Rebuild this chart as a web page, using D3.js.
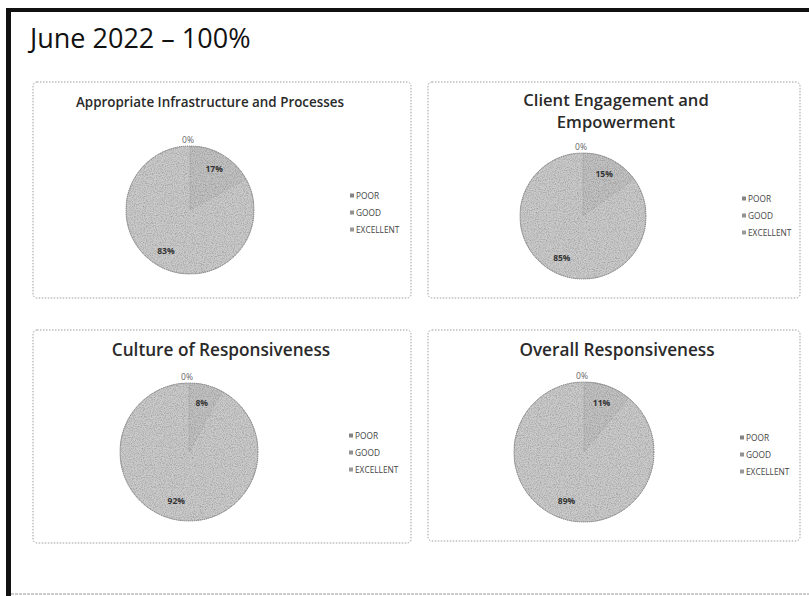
<!DOCTYPE html>
<html><head><meta charset="utf-8">
<script src="https://cdn.jsdelivr.net/npm/d3@7"></script>
<style>
html,body{margin:0;padding:0;background:#fff;}
svg{display:block;}
</style></head>
<body>
<script>
// ---- data ----
const pageTitle = "June 2022 \u2013 100%";
const categories = ["POOR", "GOOD", "EXCELLENT"];
const chartTitles = [
  ["Appropriate Infrastructure and Processes"],
  ["Client Engagement and", "Empowerment"],
  ["Culture of Responsiveness"],
  ["Overall Responsiveness"]
];
const infrastructureValues = [0, 17, 83];
const engagementValues = [0, 15, 85];
const cultureValues = [0, 8, 92];
const overallValues = [0, 11, 89];
const seriesValues = [infrastructureValues, engagementValues, cultureValues, overallValues];

// ---- layout (styles / positions, not data) ----
const W = 809, H = 596;
const panels = [
  {x: 33, y: 82, w: 378, h: 216, cx: 190, cy: 210, r: 64, titleY: [107], titleSize: 13.4, titleX: 210, legX: 350, legY: 196},
  {x: 428, y: 82, w: 372, h: 216, cx: 583, cy: 216, r: 63, titleY: [106, 128], titleSize: 16.6, titleX: 616, legX: 742, legY: 199},
  {x: 33, y: 330, w: 378, h: 213, cx: 189, cy: 452, r: 69, titleY: [356], titleSize: 17.2, titleX: 221, legX: 349, legY: 436},
  {x: 428, y: 330, w: 372, h: 211, cx: 584, cy: 452, r: 70, titleY: [356], titleSize: 17.2, titleX: 617, legX: 740, legY: 438}
];
const sliceColors = ["#b0b0b0", "#c2c2c2", "#cbcbcb"];

const svg = d3.select("body").append("svg").attr("width", W).attr("height", H);

// noise texture filter to mimic photocopy
const defs = svg.append("defs");
const f = defs.append("filter").attr("id", "grain").attr("x", 0).attr("y", 0).attr("width", 1).attr("height", 1);
f.append("feTurbulence").attr("type", "fractalNoise").attr("baseFrequency", 0.9).attr("numOctaves", 2).attr("seed", 3).attr("result", "noise");
f.append("feColorMatrix").attr("in", "noise").attr("type", "matrix")
  .attr("values", "0 0 0 0 0  0 0 0 0 0  0 0 0 0 0  0 0 0 -0.9 0.55").attr("result", "dots");
f.append("feComposite").attr("in", "dots").attr("in2", "SourceGraphic").attr("operator", "in").attr("result", "dotsIn");
f.append("feMerge").selectAll("feMergeNode").data(["SourceGraphic", "dotsIn"]).enter()
  .append("feMergeNode").attr("in", d => d);

svg.append("rect").attr("width", W).attr("height", H).attr("fill", "#fff");

// frame
svg.append("rect").attr("x", 6).attr("y", 8).attr("width", W - 6).attr("height", 4).attr("fill", "#111");
svg.append("rect").attr("x", 6).attr("y", 8).attr("width", 5).attr("height", H - 8).attr("fill", "#111");
svg.append("line").attr("x1", 11).attr("x2", W).attr("y1", 594).attr("y2", 594)
  .attr("stroke", "#9a9a9a").attr("stroke-width", 1.2).attr("stroke-dasharray", "3,1");

svg.append("text").attr("x", 30).attr("y", 48).text(pageTitle)
  .attr("font-family", "'Open Sans', sans-serif").attr("font-size", 27).attr("font-weight", 500).attr("fill", "#111");

const pie = d3.pie().sort(null).value(d => d);
const color = d3.scaleOrdinal().domain(categories).range(sliceColors);

panels.forEach((p, i) => {
  const g = svg.append("g");
  const vals = seriesValues[i];
  // panel border
  g.append("rect").attr("x", p.x).attr("y", p.y).attr("width", p.w).attr("height", p.h).attr("rx", 4)
    .attr("fill", "none").attr("stroke", "#9d9d9d").attr("stroke-width", 1).attr("stroke-dasharray", "1.5,1.5");
  // title
  const t = g.append("text").attr("text-anchor", "middle")
    .attr("font-family", "'Open Sans', sans-serif").attr("font-weight", 600)
    .attr("font-size", p.titleSize).attr("fill", "#2a2a2a");
  chartTitles[i].forEach((line, k) => {
    t.append("tspan").attr("x", p.titleX).attr("y", p.titleY[k]).text(line);
  });
  // pie
  const arcs = pie(vals).map((a, k) => Object.assign(a, {cat: categories[k]}));
  const arc = d3.arc().innerRadius(0).outerRadius(p.r);
  const pg = g.append("g").attr("transform", `translate(${p.cx},${p.cy})`);
  const sg = pg.append("g").attr("filter", "url(#grain)");
  sg.selectAll("path").data(arcs).enter().append("path")
    .attr("d", arc).attr("fill", d => color(d.cat))
    .attr("stroke", "#b8b8b8").attr("stroke-width", 0.8);
  pg.append("circle").attr("r", p.r).attr("fill", "none")
    .attr("stroke", "#7a7a7a").attr("stroke-width", 1).attr("stroke-dasharray", "1,1");
  // labels
  const inner = d3.arc().innerRadius(p.r * 0.74).outerRadius(p.r * 0.74);
  pg.selectAll("text.lbl").data(arcs).enter().append("text").attr("class", "lbl")
    .attr("transform", d => {
      if (d.value === 0) return `translate(${-2},${-p.r - 6})`;
      const c = inner.centroid(d);
      return `translate(${c[0]},${c[1]})`;
    })
    .attr("text-anchor", "middle").attr("dy", "0.35em")
    .attr("font-family", "'Open Sans', sans-serif").attr("font-weight", d => d.value === 0 ? 400 : 700)
    .attr("font-size", 8.5).attr("fill", d => d.value === 0 ? "#666" : "#333")
    .text(d => d.value + "%");
  // legend
  const lg = g.append("g").attr("transform", `translate(${p.legX},${p.legY})`);
  const items = lg.selectAll("g").data(categories).enter().append("g")
    .attr("transform", (d, k) => `translate(0,${k * 17})`);
  items.append("rect").attr("x", 0).attr("y", -2.5).attr("width", 4).attr("height", 4)
    .attr("fill", d => d3.color(color(d)).darker(0.8));
  items.append("text").attr("x", 6).attr("y", 0).attr("dy", "0.35em")
    .attr("font-family", "'Open Sans', sans-serif").attr("font-size", 8.3).attr("fill", "#444")
    .text(d => d);
});
</script>
</body></html>
